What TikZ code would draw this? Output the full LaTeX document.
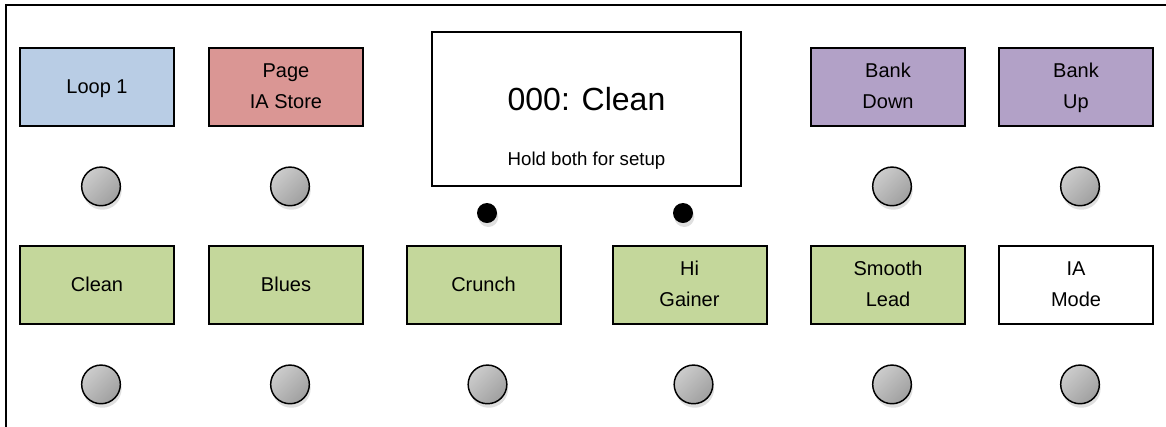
\documentclass[tikz,border=0pt]{standalone}
\usepackage{fontspec}
\setmainfont{Liberation Sans}
\usepackage{tikz}
\usetikzlibrary{positioning,shadows}
\definecolor{BB}{RGB}{185, 205, 229}
\definecolor{RR}{RGB}{218, 150, 148}
\definecolor{PP}{RGB}{178, 161, 199}
\definecolor{GG}{RGB}{196, 215, 155}
\tikzset{
    pad/.style={rectangle, minimum width=115.5pt, minimum height=58.5pt, text centered, align=center, draw=black, line width=1.5pt, font=\fontsize{15}{23.2}\selectfont, execute at end node=\strut},
    knob/.style={circle, minimum size=29pt, inner sep=0pt, draw=black, line width=1.1pt, top color=gray!40, bottom color=gray!75, shading angle=45, drop shadow={opacity=0.25, shadow xshift=1pt, shadow yshift=-3pt}},
}

\begin{document}
\begin{tikzpicture}[
  x=0.75pt, y=-0.75pt, % pixel coordinates
  PadB/.style={pad, fill=BB},
  PadR/.style={pad, fill=RR},
  PadP/.style={pad, fill=PP},
  PadG/.style={pad, fill=GG},
  screen/.style={rectangle, draw=black, line width=1.5pt, minimum width=231.75pt, minimum height=115.5pt},
  led/.style={circle, fill=black, minimum size=15pt, inner sep=0pt, drop shadow={opacity=0.25, shadow xshift=1pt, shadow yshift=-3pt}},
  ]
\clip (0,0) rectangle (1166,426);
\draw[line width=1.8pt] (6,5) rectangle (1200,460);

% top row
\node[PadB] (loop) at (97,87) {Loop 1};
\node[PadR] (page) at (286,87) {\strut Page\\IA Store};
\node[screen] (display) at (586.5,109) {};
\node[PadP] (bankdown) at (888,87) {\strut Bank\\Down};
\node[PadP] (bankup) at (1076,87) {\strut Bank\\Up};

\node[font=\fontsize{24}{28}\selectfont, anchor=base] (title) at (586.5,110) {000: Clean};
\node[font=\fontsize{14}{16}\selectfont, anchor=base] (hint) at (586.5,165) {Hold both for setup};
\node[led] (ledL) at (487,213) {};
\node[led] (ledR) at (683,213) {};

% bottom row
\node[PadG] (clean) at (97,285) {Clean};
\node[PadG] (blues) at (286,285) {Blues};
\node[PadG] (crunch) at (483.5,285) {Crunch};
\node[PadG] (gainer) at (689.5,285) {\strut Hi\\Gainer};
\node[PadG] (lead) at (888,285) {\strut Smooth\\Lead};
\node[pad, fill=white] (iamode) at (1076,285) {\strut IA\\Mode};

% knobs
\foreach \p in {loop,page,bankdown,bankup,clean,blues,crunch,gainer,lead,iamode}
    \node[knob, below=29.5pt of \p, xshift=3pt] (k\p) {};

\end{tikzpicture}
\end{document}
